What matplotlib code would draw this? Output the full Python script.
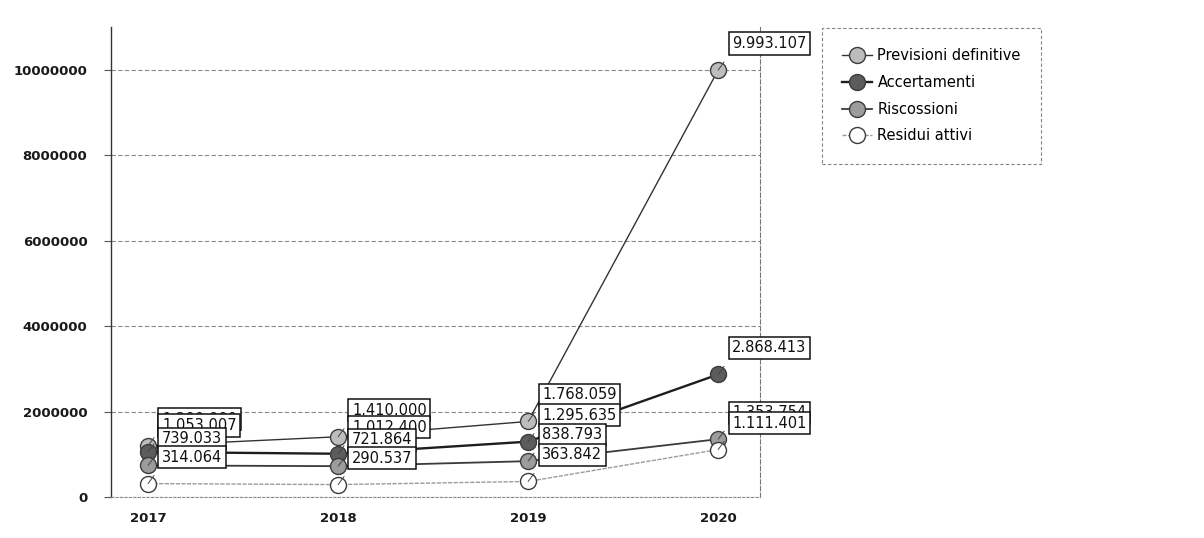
import matplotlib
matplotlib.use("Agg")
import matplotlib.pyplot as plt
from matplotlib.ticker import FuncFormatter

# Data
years = ["2017", "2018", "2019", "2020"]
previsioni = [1200000, 1410000, 1768059, 9993107]
accertamenti = [1053007, 1012400, 1295635, 2868413]
riscossioni = [739033, 721864, 838793, 1353754]
residui = [314064, 290537, 363842, 1111401]
yticks = [0, 2000000, 4000000, 6000000, 8000000, 10000000]

SERIES = [
    ("Previsioni definitive", previsioni, "#bdbdbd", "#333333", 1.0, "-"),
    ("Accertamenti", accertamenti, "#5c5c5c", "#1e1e1e", 1.7, "-"),
    ("Riscossioni", riscossioni, "#9c9c9c", "#3a3a3a", 1.3, "-"),
    ("Residui attivi", residui, "#ffffff", "#9a9a9a", 1.0, (0, (3, 1))),
]


def it_fmt(v):
    return f"{v:,}".replace(",", ".")


fig = plt.figure(figsize=(12.04, 5.38), dpi=100)
ax = fig.add_axes([111 / 1204, 1 - 497 / 538, (760 - 111) / 1204, (497 - 27) / 538])

x = list(range(len(years)))
handles = []
for i, (name, vals, face, lcol, lw, ls) in enumerate(SERIES):
    (h,) = ax.plot(
        x, vals, color=lcol, linewidth=lw, linestyle=ls, marker="o", markersize=11.5,
        markerfacecolor=face, markeredgecolor="#3c3c3c", markeredgewidth=1.0,
        label=name, zorder=3 + i * 0.1,
    )
    handles.append(h)
    for xi, v in zip(x, vals):
        ax.annotate(
            it_fmt(v), xy=(xi, v), xytext=(14, 19), textcoords="offset pixels",
            ha="left", va="bottom", fontsize=10.5, color="#111111",
            bbox=dict(boxstyle="square,pad=0.25", fc="white", ec="#111111", lw=1.1),
            arrowprops=dict(arrowstyle="-", color="#444444", lw=0.7,
                            shrinkA=6, shrinkB=0, relpos=(0, 0)),
            zorder=10 + i,
        )

ax.set_xlim(-0.195, 3.22)
ax.set_ylim(0, 11000000)
ax.set_xticks(x)
ax.set_xticklabels(years)
ax.set_yticks(yticks)
ax.yaxis.set_major_formatter(FuncFormatter(lambda v, p: f"{int(v)}"))

for lab in ax.get_xticklabels() + ax.get_yticklabels():
    lab.set_fontweight("bold")
    lab.set_fontsize(9.5)
    lab.set_color("#1a1a1a")
ax.tick_params(axis="x", length=0, pad=11)
ax.tick_params(axis="y", length=5, width=0.8, color="#555555", pad=12)

ax.grid(axis="y", color="#8a8a8a", linestyle=(0, (4, 2)), linewidth=0.8)
ax.set_axisbelow(True)
ax.spines["top"].set_visible(False)
ax.spines["left"].set_color("#333333")
ax.spines["left"].set_linewidth(1.0)
ax.spines["bottom"].set_color("#8a8a8a")
ax.spines["bottom"].set_linestyle((0, (2, 2)))
ax.spines["bottom"].set_linewidth(0.8)
ax.spines["right"].set_color("#777777")
ax.spines["right"].set_linestyle((0, (4, 2)))
ax.spines["right"].set_linewidth(0.8)

leg = fig.legend(
    handles=handles, loc="upper left",
    bbox_to_anchor=(822 / 1204, 1 - 28 / 538), borderaxespad=0,
    fontsize=10.5, frameon=True, fancybox=False, handlelength=2.0,
    labelspacing=0.8, borderpad=1.4, handletextpad=0.4,
)
leg.get_frame().set_edgecolor("#666666")
leg.get_frame().set_linewidth(0.8)
leg.get_frame().set_linestyle((0, (3, 2)))

fig.savefig("out.png", dpi=100)
